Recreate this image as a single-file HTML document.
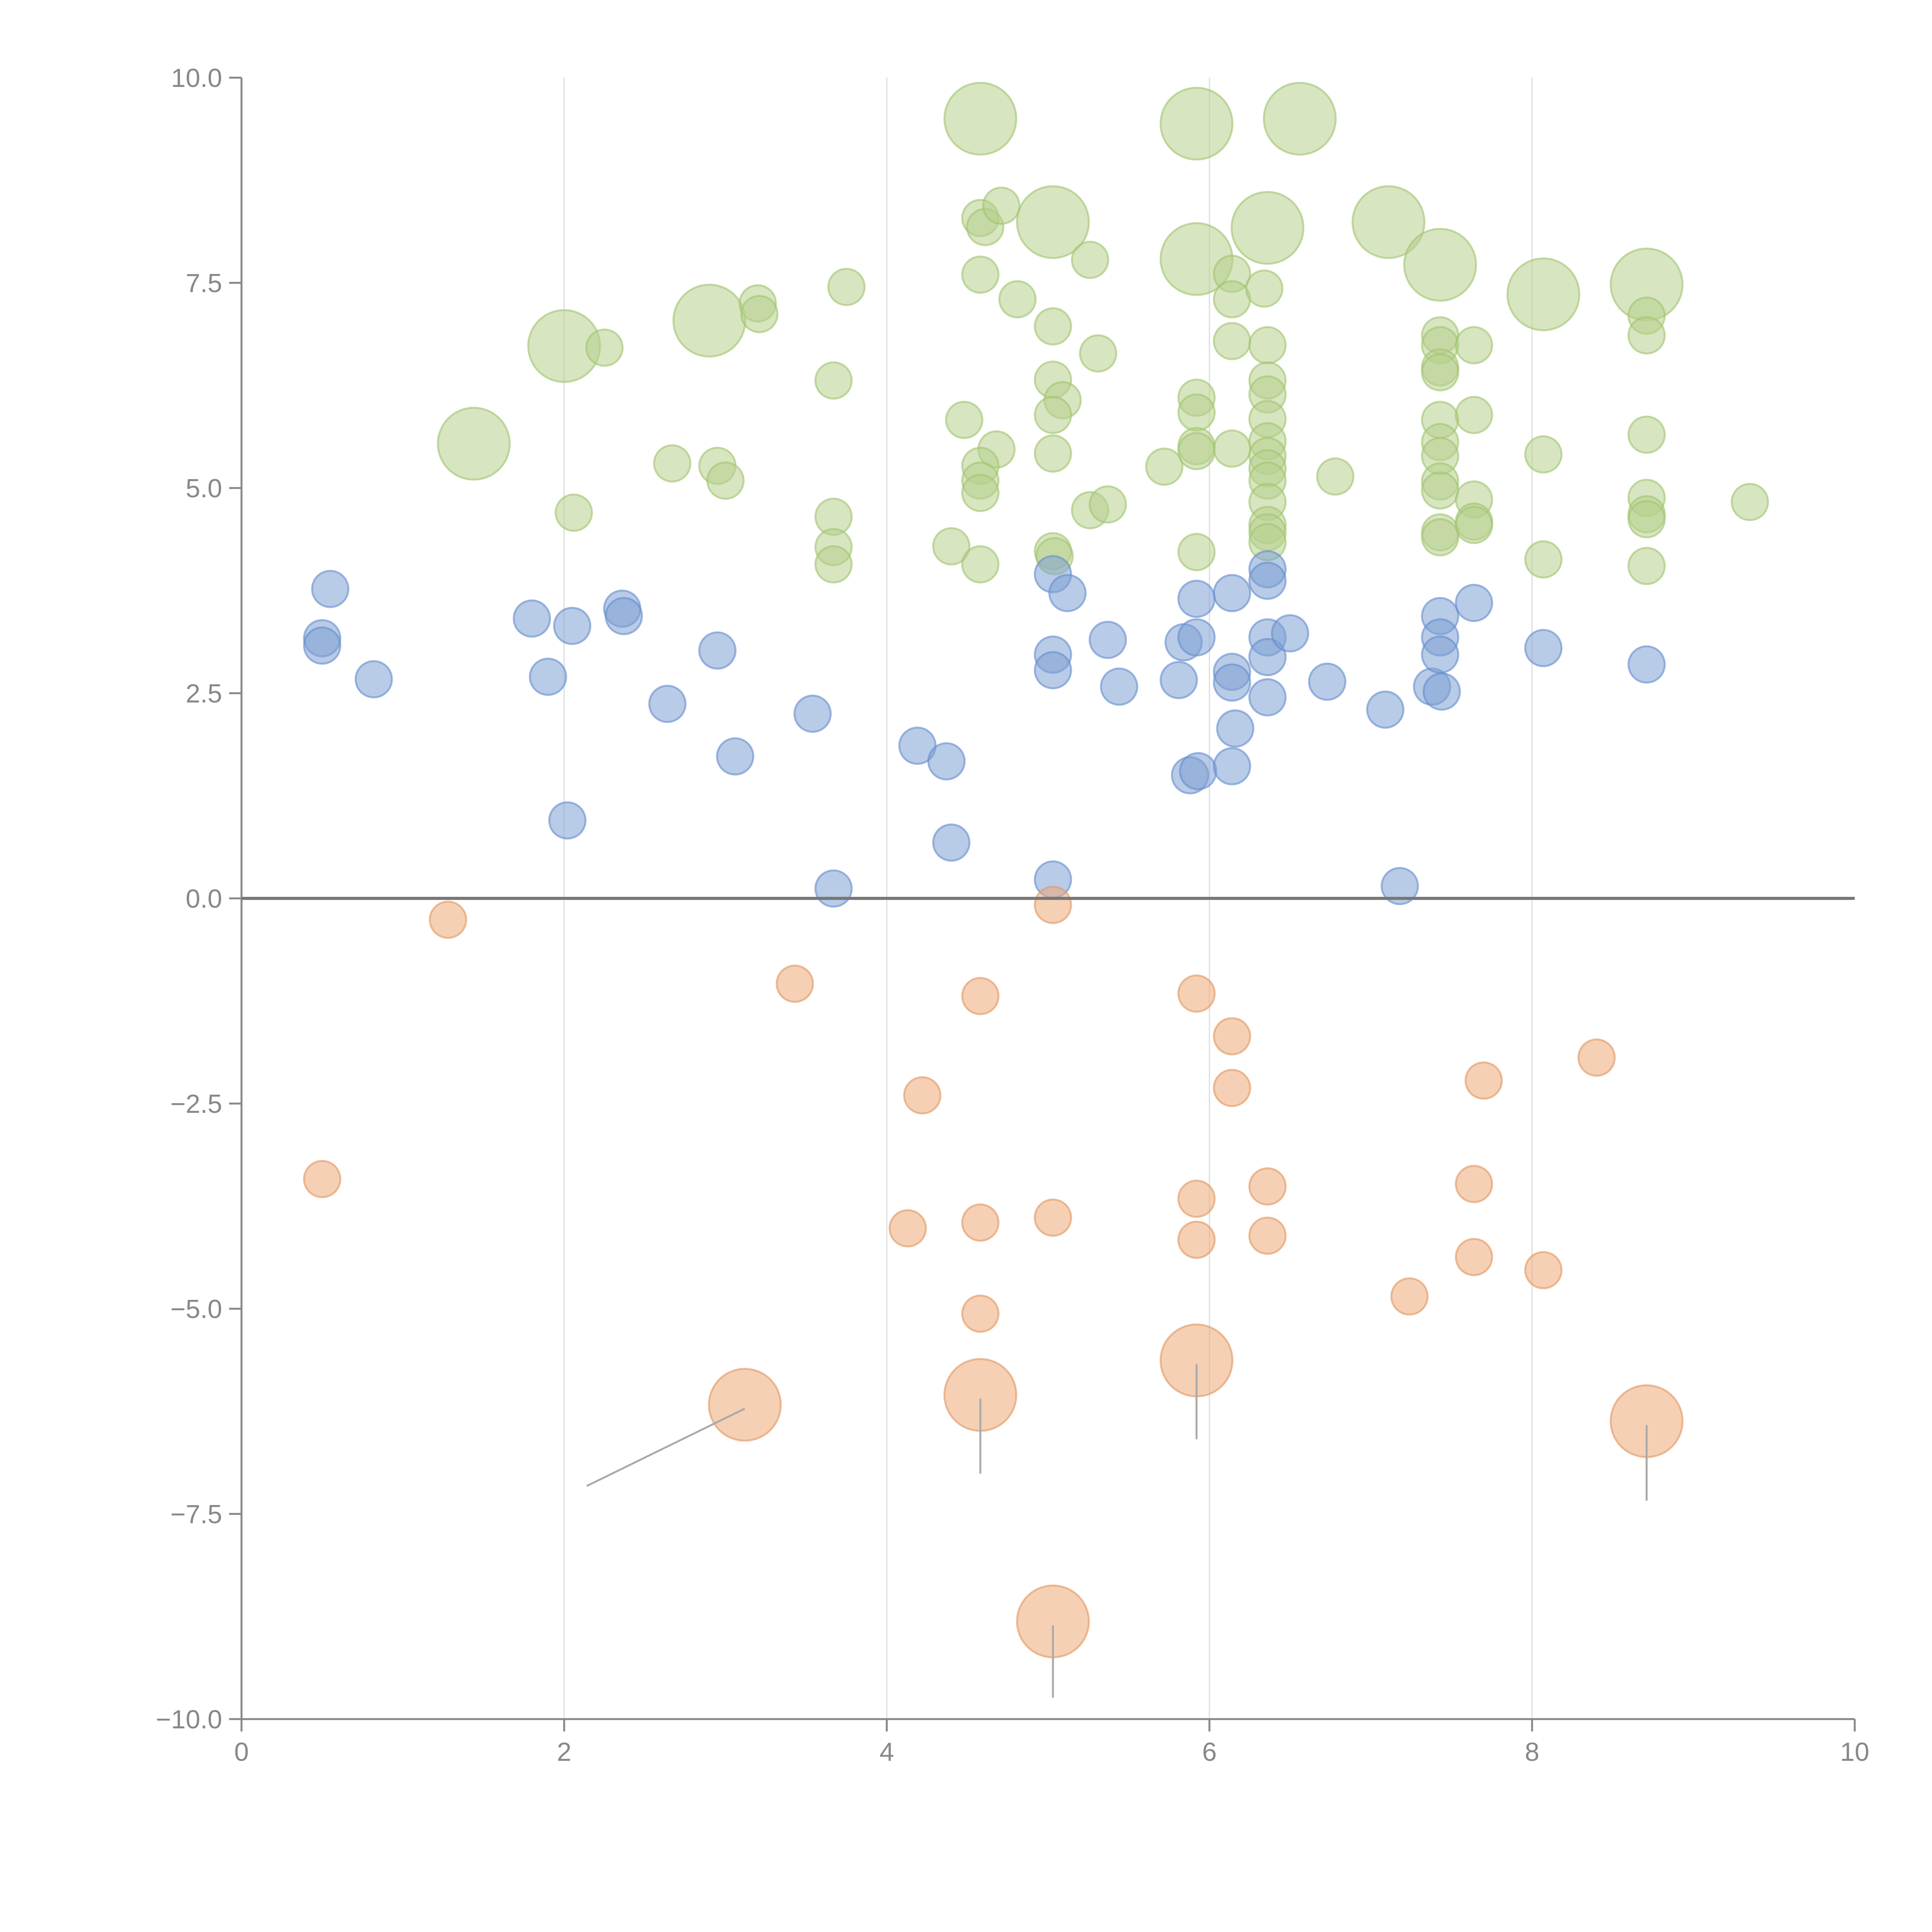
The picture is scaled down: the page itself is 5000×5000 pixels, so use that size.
<!DOCTYPE html>
<html><head><meta charset="utf-8"><style>html,body{margin:0;padding:0;background:#fff;}svg{display:block;}</style></head>
<body>
<svg id="chart" width="5000" height="5000" viewBox="0 0 5000 5000" xmlns="http://www.w3.org/2000/svg"></svg>
<script>
const xTicks=[0,2,4,6,8,10];
const yTicks=[-10,-7.5,-5,-2.5,0,2.5,5,7.5,10];
const yTickLabels=["\u221210.0","\u22127.5","\u22125.0","\u22122.5","0.0","2.5","5.0","7.5","10.0"];
const blueX=[0.50,0.50,0.55,0.82,1.80,1.90,2.05,2.36,2.37,2.02,2.64,2.95,3.06,3.54,3.67,4.19,4.37,4.40,5.03,5.12,5.03,5.03,5.03,5.37,5.44,5.81,5.84,5.92,5.92,5.88,5.93,6.14,6.14,6.14,6.16,6.14,6.36,6.36,6.36,6.36,6.36,6.50,6.73,7.09,7.18,7.38,7.43,7.43,7.43,7.44,7.64,8.07,8.71];
const blueY=[3.17,3.08,3.77,2.67,3.41,2.70,3.32,3.53,3.44,0.95,2.37,3.02,1.73,2.25,0.12,1.86,1.67,0.68,3.95,3.72,2.97,2.78,0.23,3.15,2.58,2.66,3.12,3.65,3.18,1.50,1.55,3.72,2.76,2.63,2.07,1.61,4.01,3.87,3.18,2.94,2.45,3.23,2.64,2.30,0.15,2.58,3.44,3.18,2.97,2.52,3.60,3.05,2.85];
const orangeX=[1.28,0.50,3.43,4.22,4.13,4.58,4.58,4.58,5.03,5.03,5.92,5.92,5.92,6.14,6.14,6.36,6.36,7.24,7.64,7.64,7.70,8.07,8.40];
const orangeY=[-0.26,-3.42,-1.04,-2.40,-4.02,-1.19,-3.95,-5.06,-0.08,-3.89,-1.16,-3.66,-4.16,-1.68,-2.31,-3.51,-4.11,-4.85,-3.48,-4.37,-2.22,-4.53,-1.94];
const orangeBigX=[3.12,4.58,5.92,5.03,8.71];
const orangeBigY=[-6.17,-6.05,-5.63,-8.81,-6.37];
const leaderEndX=[2.14,4.58,5.92,5.03,8.71];
const leaderEndY=[-7.16,-7.01,-6.59,-9.74,-7.34];
const greenBigX=[1.44,2.00,2.90,4.58,5.03,5.92,5.92,6.36,6.56,7.11,7.43,8.07,8.71];
const greenBigY=[5.54,6.73,7.04,9.50,8.24,9.44,7.79,8.17,9.50,8.24,7.72,7.36,7.48];
const greenX=[2.25,2.06,2.67,2.95,3.00,3.20,3.21,3.67,3.75,3.67,3.67,3.67,4.40,4.48,4.58,4.61,4.71,4.58,4.81,4.68,4.58,4.58,4.58,4.58,5.03,5.03,5.09,5.03,5.03,5.03,5.04,5.26,5.31,5.26,5.37,5.72,5.92,5.92,5.92,5.92,5.92,6.14,6.14,6.14,6.14,6.34,6.36,6.36,6.36,6.36,6.36,6.36,6.36,6.36,6.36,6.36,6.36,6.36,6.78,7.43,7.43,7.43,7.43,7.43,7.43,7.43,7.43,7.43,7.43,7.43,7.64,7.64,7.64,7.64,7.64,8.07,8.07,8.71,8.71,8.71,8.71,8.71,8.71,8.71,9.35];
const greenY=[6.71,4.70,5.30,5.27,5.09,7.25,7.12,6.31,7.45,4.65,4.28,4.07,4.29,5.83,8.29,8.18,8.44,7.60,7.30,5.47,5.27,5.09,4.94,4.07,6.97,6.32,6.07,5.89,5.42,4.23,4.17,7.78,6.64,4.73,4.80,5.26,6.10,5.92,5.51,5.45,4.22,7.61,7.30,6.79,5.48,7.43,6.74,6.31,6.14,5.84,5.57,5.39,5.24,5.09,4.83,4.55,4.46,4.34,5.14,6.86,6.74,6.47,6.41,5.83,5.56,5.39,5.08,4.97,4.46,4.40,6.74,5.89,4.86,4.59,4.55,5.41,4.13,7.10,6.86,5.65,4.88,4.68,4.62,4.05,4.83];

const NS="http://www.w3.org/2000/svg";
const svg=document.getElementById('chart');
const X0=625,X1=4800,YT=201,YB=4449;
function sx(v){return X0+(v-0)/(10-0)*(X1-X0);}
function sy(v){return YB-(v+10)/20*(YB-YT);}
function mk(tag,attrs){const e=document.createElementNS(NS,tag);for(const k in attrs)e.setAttribute(k,attrs[k]);svg.appendChild(e);return e;}

for(const t of [2,4,6,8]){
  const g=mk('line',{x1:sx(t),x2:sx(t),y1:YT,y2:YB,stroke:'#dddddd','stroke-width':3});
  
  
}
const ya=mk('line',{x1:X0,x2:X0,y1:YT,y2:YB,stroke:'#888','stroke-width':5});


const xa=mk('line',{x1:X0,x2:X1,y1:YB,y2:YB,stroke:'#888','stroke-width':5});


xTicks.forEach(t=>{
  const l=mk('line',{x1:sx(t),x2:sx(t),y1:YB,y2:YB+32,stroke:'#888','stroke-width':5});
  
  
  const tx=mk('text',{x:sx(t),y:YB+108,'text-anchor':'middle','font-family':'Liberation Sans, sans-serif','font-size':68,fill:'#888'});
  tx.textContent=String(t);
  
  
});
yTicks.forEach((t,i)=>{
  const l=mk('line',{x1:X0-32,x2:X0,y1:sy(t),y2:sy(t),stroke:'#888','stroke-width':5});
  
  
  const tx=mk('text',{x:X0-50,y:sy(t)+24,'text-anchor':'end','font-family':'Liberation Sans, sans-serif','font-size':68,fill:'#888'});
  tx.textContent=yTickLabels[i];
  
  
});
function bubbles(xs,ys,r,fill,stroke,name){
  xs.forEach((v,i)=>{
    const c=mk('circle',{cx:sx(v),cy:sy(ys[i]),r:r,fill:fill,stroke:stroke,'stroke-width':5});
    
    
  });
}
bubbles(greenBigX,greenBigY,93,'rgba(182,208,140,0.55)','rgba(160,195,110,0.6)','green-large-bubble');
bubbles(greenX,greenY,47,'rgba(182,208,140,0.55)','rgba(160,195,110,0.6)','green-bubble');
bubbles(blueX,blueY,47,'rgba(125,160,212,0.55)','rgba(100,140,205,0.6)','blue-bubble');
bubbles(orangeX,orangeY,47,'rgba(236,170,120,0.55)','rgba(225,150,95,0.6)','orange-bubble');
bubbles(orangeBigX,orangeBigY,93,'rgba(236,170,120,0.55)','rgba(225,150,95,0.6)','orange-large-bubble');
orangeBigX.forEach((v,i)=>{
  const l=mk('line',{x1:sx(v),y1:sy(orangeBigY[i])+10,x2:sx(leaderEndX[i]),y2:sy(leaderEndY[i]),stroke:'#aaa','stroke-width':5});
  
  
});
const z=mk('line',{x1:X0,x2:X1,y1:sy(0),y2:sy(0),stroke:'#777','stroke-width':8});


</script>
</body></html>
